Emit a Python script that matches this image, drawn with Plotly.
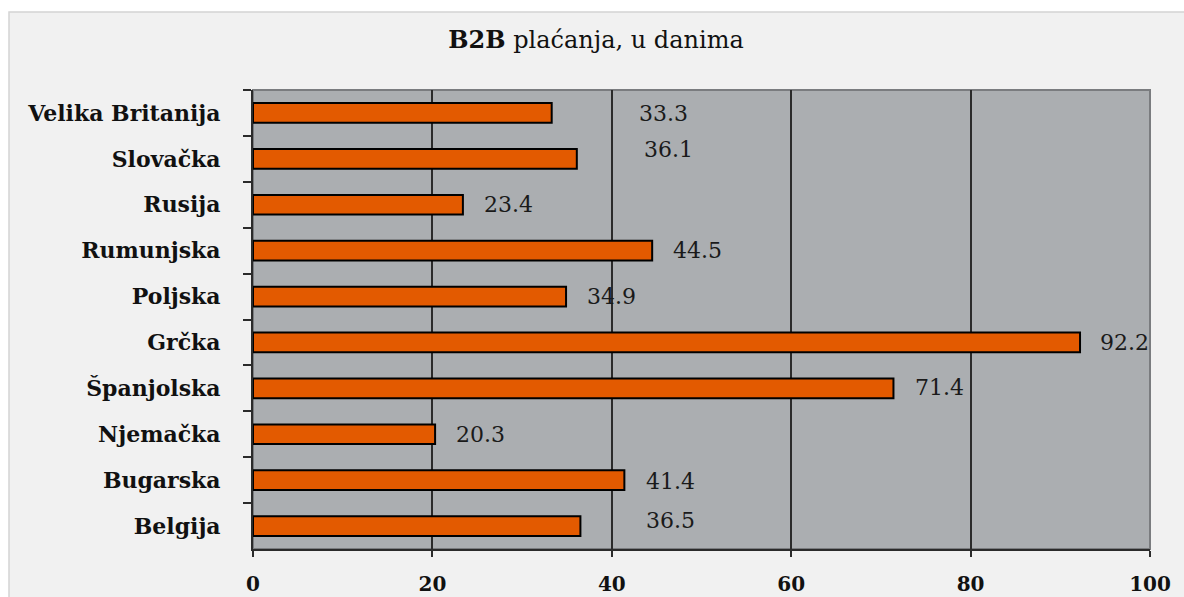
import plotly.graph_objects as go

# ---- data (top to bottom as shown) ----
countries = ["Velika Britanija", "Slovačka", "Rusija", "Rumunjska", "Poljska",
             "Grčka", "Španjolska", "Njemačka", "Bugarska", "Belgija"]
days = [33.3, 36.1, 23.4, 44.5, 34.9, 92.2, 71.4, 20.3, 41.4, 36.5]
x_ticks = [0, 20, 40, 60, 80, 100]
title_text = "<b>B2B</b> plaćanja, u danima"

# ---- label placement (styling, pixels) ----
label_dx = [85, 65, 19, 19, 19, 18, 20, 19, 20, 64]
label_dy = [-1, 9, 0, 0, 0, 0, 1, 0, -1, 6]

W, H = 1184, 597
ML, MR, MT, MB = 253, 34, 90, 48
pw, ph = W - ML - MR, H - MT - MB

def px_x(px):
    return (px - ML) / pw

def px_y(py):
    return (H - MB - py) / ph

SERIF = "DejaVu Serif"

fig = go.Figure()
fig.add_trace(go.Bar(
    y=countries, x=days, orientation="h",
    marker=dict(color="#E35A00", line=dict(color="#000000", width=2)),
    width=0.43, hoverinfo="x+y",
))

annotations = []
for c, v, dx, dy in zip(countries, days, label_dx, label_dy):
    annotations.append(dict(
        x=v, y=c, xref="x", yref="y", text=f"{v:.1f}", showarrow=False,
        xanchor="left", yanchor="middle", xshift=dx, yshift=dy,
        font=dict(family=SERIF, size=22, color="#1a1a1a"),
    ))

shapes = [
    # outer light frame
    dict(type="rect", xref="paper", yref="paper", layer="below",
         x0=px_x(9), x1=px_x(1195), y0=px_y(610), y1=px_y(12),
         fillcolor="#F1F1F1", line=dict(color="#D4D4D4", width=1.5)),
    # plot area background
    dict(type="rect", xref="paper", yref="paper", layer="below",
         x0=0, x1=1, y0=0, y1=1,
         fillcolor="#ABAEB1", line=dict(color="#7A7C7F", width=2)),
]

fig.update_layout(
    width=W, height=H, autosize=False,
    margin=dict(l=ML, r=MR, t=MT, b=MB, pad=0),
    paper_bgcolor="#FFFFFF", plot_bgcolor="rgba(0,0,0,0)",
    showlegend=False,
    title=dict(text=title_text, x=596 / W, xref="container", xanchor="center",
               y=1 - 40 / H, yref="container", yanchor="middle",
               font=dict(family=SERIF, size=24, color="#111111")),
    annotations=annotations,
    shapes=shapes,
    bargap=0.57,
)

fig.update_xaxes(
    range=[0, 100], tickvals=x_ticks, ticktext=[str(t) for t in x_ticks],
    showgrid=True, gridcolor="#2B2B2B", gridwidth=1.5,
    showline=True, linecolor="#2B2B2B", linewidth=2,
    ticks="outside", ticklen=6, tickcolor="#2B2B2B", tickwidth=1.5,
    tickfont=dict(family=SERIF, size=20, color="#111111", weight="bold"),
    ticklabelstandoff=10, zeroline=False, fixedrange=True, automargin=False,
)
fig.update_yaxes(
    autorange="reversed", type="category",
    showgrid=False, showline=True, linecolor="#2B2B2B", linewidth=2,
    ticks="outside", ticklen=8, tickcolor="#2B2B2B", tickwidth=1.5,
    tickson="boundaries",
    tickfont=dict(family=SERIF, size=22, color="#111111", weight="bold"),
    ticklabelstandoff=26, fixedrange=True, automargin=False,
)

fig.write_html(
    "out.html",
    config={"responsive": False, "displayModeBar": False},
    post_script="document.body.style.margin='0';document.body.style.overflow='hidden';",
)
